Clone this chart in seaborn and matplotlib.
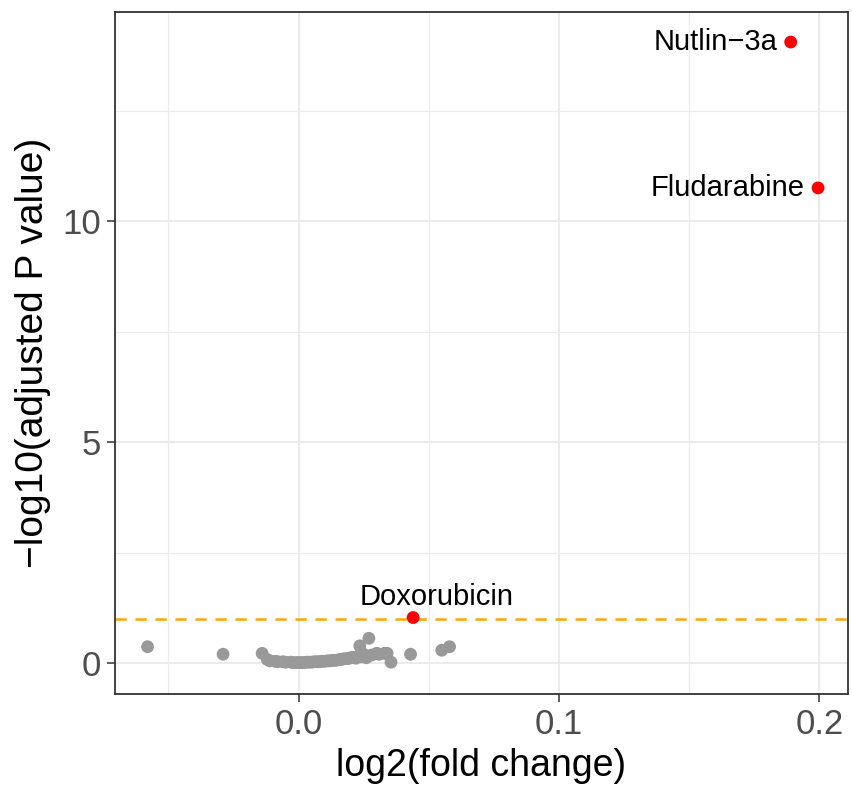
import matplotlib
matplotlib.use("Agg")
import matplotlib.pyplot as plt
import seaborn as sns
import pandas as pd

# ---- data ----
drug_names = ["Nutlin−3a", "Fludarabine", "Doxorubicin"]
sig_x = [0.189, 0.1995, 0.044]
sig_y = [14.05, 10.75, 1.03]

gray_x = [-0.058, -0.029, -0.014, -0.012, -0.011, -0.009, -0.008, -0.006, -0.005,
          -0.003, -0.002, -0.001, 0.000, 0.001, 0.002, 0.003, 0.004, 0.005, 0.006,
          0.007, 0.008, 0.009, 0.010, 0.011, 0.012, 0.013, 0.014, 0.015, 0.016,
          0.017, 0.018, 0.019, 0.020, 0.021, 0.022, 0.023, 0.0235, 0.024, 0.025,
          0.026, 0.027, 0.028, 0.030, 0.031, 0.033, 0.034, 0.0355, 0.043, 0.055, 0.058]
gray_y = [0.37, 0.20, 0.22, 0.08, 0.05, 0.04, 0.03, 0.03, 0.02,
          0.02, 0.01, 0.01, 0.01, 0.01, 0.01, 0.02, 0.02, 0.02, 0.03,
          0.03, 0.03, 0.04, 0.04, 0.05, 0.05, 0.06, 0.06, 0.07, 0.08,
          0.09, 0.10, 0.10, 0.12, 0.13, 0.11, 0.16, 0.39, 0.14, 0.20,
          0.12, 0.56, 0.18, 0.22, 0.20, 0.22, 0.22, 0.02, 0.20, 0.29, 0.37]

threshold = 1.0
x_ticks = [0.0, 0.1, 0.2]
y_ticks = [0, 5, 10]

gray_df = pd.DataFrame({"log2FC": gray_x, "logP": gray_y})
sig_df = pd.DataFrame({"drug": drug_names, "log2FC": sig_x, "logP": sig_y})

sns.set_theme(style="white")
plt.rcParams["font.family"] = ["Liberation Sans", "DejaVu Sans"]

fig = plt.figure(figsize=(8.53, 7.92), dpi=100)
ax = fig.add_axes([115/853, 1-694/792, (848-115)/853, (694-12)/792])

ax.set_xlim(-0.0705, 0.211)
ax.set_ylim(-0.70, 14.73)

# grid
for v in [-0.05, 0.05, 0.15]:
    ax.axvline(v, color="#EBEBEB", lw=0.8, zorder=0)
for v in [2.5, 7.5, 12.5]:
    ax.axhline(v, color="#EBEBEB", lw=0.8, zorder=0)
for v in x_ticks:
    ax.axvline(v, color="#EBEBEB", lw=1.5, zorder=0)
for v in y_ticks:
    ax.axhline(v, color="#EBEBEB", lw=1.5, zorder=0)

sns.scatterplot(data=gray_df, x="log2FC", y="logP", color="#999999", s=85,
                edgecolor="none", ax=ax, zorder=3)
ax.axhline(threshold, color="#FFA500", lw=1.8, ls=(0, (4.5, 3.5)), zorder=2)
sns.scatterplot(data=sig_df, x="log2FC", y="logP", color="#FF0000", s=85,
                edgecolor="none", ax=ax, zorder=4)

# labels
for name, x, y in zip(drug_names, sig_x, sig_y):
    if name == "Doxorubicin":
        ax.annotate(name, (x, y), xytext=(17, 15), textcoords="offset points",
                    ha="center", va="center", fontsize=21, color="black")
    else:
        ax.annotate(name, (x, y), xytext=(-9.5, 0), textcoords="offset points",
                    ha="right", va="center", fontsize=21, color="black")

ax.set_xticks(x_ticks)
ax.set_xticklabels(["0.0", "0.1", "0.2"])
ax.set_yticks(y_ticks)
ax.set_yticklabels([str(v) for v in y_ticks])
ax.tick_params(axis="both", which="major", length=6, width=1.1, color="#333333",
               labelsize=25, labelcolor="#4D4D4D", pad=4, bottom=True, left=True)
for s in ax.spines.values():
    s.set_color("#333333")
    s.set_linewidth(1.3)

ax.set_xlabel("log2(fold change)", fontsize=27, color="black", labelpad=5)
ax.set_ylabel("−log10(adjusted P value)", fontsize=28, color="black", labelpad=8)

fig.savefig("out.png", dpi=100)
